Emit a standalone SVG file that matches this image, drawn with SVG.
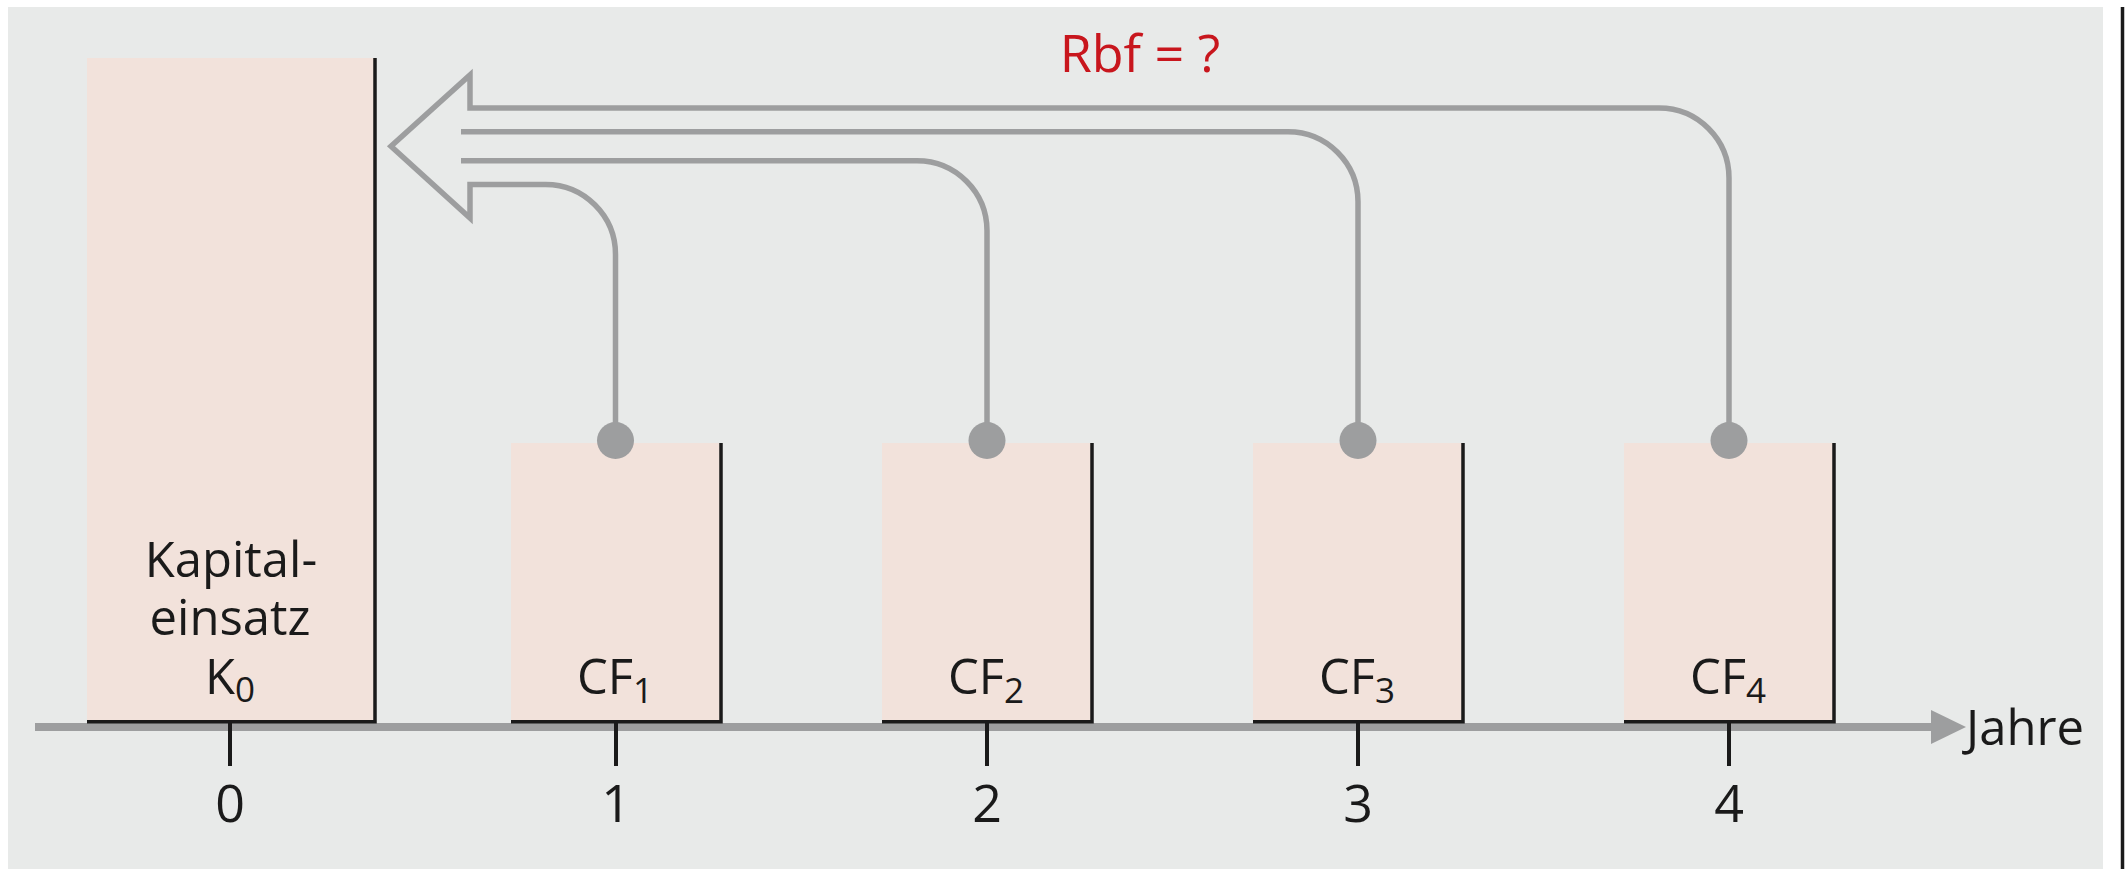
<svg xmlns="http://www.w3.org/2000/svg" width="2125" height="869" viewBox="0 0 2125 869">
<style>
.bg{fill:#e8eae9}
.box{fill:#f2e2db}
.edge{stroke:#1a1a1a;stroke-width:3.5;fill:none}
.tick{stroke:#1a1a1a;stroke-width:4;fill:none}
.conn{stroke:#9d9e9f;stroke-width:5.5;fill:none;stroke-linejoin:miter}
.dot{fill:#9d9e9f}
.axis{stroke:#9d9e9f;stroke-width:8;fill:none}
text{font-family:"Open Sans","Noto Sans","Liberation Sans",sans-serif;fill:#1a1a1a}
.lbl{font-size:49px;text-anchor:middle}
.num{font-size:52px;text-anchor:middle}
.sub{font-size:35px}
.title{font-size:52px;fill:#c8161d;text-anchor:middle}
</style>
<rect x="0" y="0" width="2125" height="869" fill="#ffffff"/>
<rect class="bg" x="8" y="7" width="2095" height="862"/>
<line x1="2122.5" y1="7" x2="2122.5" y2="869" stroke="#1a1a1a" stroke-width="3.5"/>

<g id="axis">
<line class="axis" x1="35" y1="727" x2="1933" y2="727"/>
<polygon points="1931,710 1966,727 1931,744" fill="#9d9e9f"/>
<text x="1966" y="745" style="font-size:49px">Jahre</text>
<line class="tick" x1="230" y1="723" x2="230" y2="766"/>
<line class="tick" x1="616" y1="723" x2="616" y2="766"/>
<line class="tick" x1="987" y1="723" x2="987" y2="766"/>
<line class="tick" x1="1358" y1="723" x2="1358" y2="766"/>
<line class="tick" x1="1729" y1="723" x2="1729" y2="766"/>
<text class="num" x="230" y="822">0</text>
<text class="num" x="616" y="822">1</text>
<text class="num" x="987" y="822">2</text>
<text class="num" x="1358" y="822">3</text>
<text class="num" x="1729" y="822">4</text>
</g>

<g id="k0">
<rect class="box" x="87" y="58" width="288" height="664"/>
<path class="edge" d="M375 58 V721.7 H87"/>
<text class="lbl" x="231" y="577">Kapital-</text>
<text class="lbl" x="230" y="635">einsatz</text>
<text class="lbl" x="230" y="694">K<tspan class="sub" dy="8">0</tspan></text>
</g>

<g id="cf1">
<rect class="box" x="511" y="443" width="210" height="279"/>
<path class="edge" d="M721 443 V721.7 H511"/>
<text class="lbl" x="615" y="694">CF<tspan class="sub" dy="9">1</tspan></text>
</g>
<g id="cf2">
<rect class="box" x="882" y="443" width="210" height="279"/>
<path class="edge" d="M1092 443 V721.7 H882"/>
<text class="lbl" x="986" y="694">CF<tspan class="sub" dy="9">2</tspan></text>
</g>
<g id="cf3">
<rect class="box" x="1253" y="443" width="210" height="279"/>
<path class="edge" d="M1463 443 V721.7 H1253"/>
<text class="lbl" x="1357" y="694">CF<tspan class="sub" dy="9">3</tspan></text>
</g>
<g id="cf4">
<rect class="box" x="1624" y="443" width="210" height="279"/>
<path class="edge" d="M1834 443 V721.7 H1624"/>
<text class="lbl" x="1728" y="694">CF<tspan class="sub" dy="9">4</tspan></text>
</g>

<g id="connectors">
<path class="conn" d="M1729 440 V178 A70 70 0 0 0 1659 108 H470 V75 L391 146.3 L470 218 V184.5 H545 A70 70 0 0 1 615.5 254.5 V440"/>
<path class="conn" d="M987 440 V230.7 A70 70 0 0 0 917 160.7 H461"/>
<path class="conn" d="M1358 440 V201.7 A70 70 0 0 0 1288 131.7 H461"/>
<circle class="dot" cx="615.5" cy="440.5" r="18.5"/>
<circle class="dot" cx="987" cy="440.5" r="18.5"/>
<circle class="dot" cx="1358" cy="440.5" r="18.5"/>
<circle class="dot" cx="1729" cy="440.5" r="18.5"/>
</g>

<text class="title" x="1140" y="72">Rbf = ?</text>
</svg>
